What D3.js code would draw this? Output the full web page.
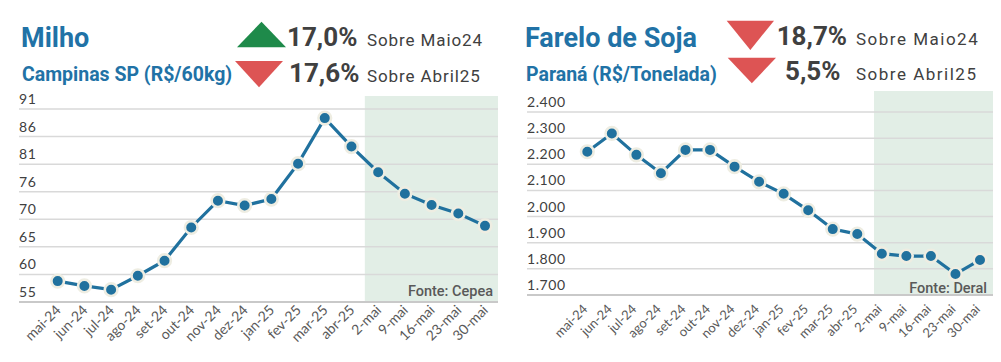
<!DOCTYPE html>
<html>
<head>
<meta charset="utf-8">
<script src="https://cdn.jsdelivr.net/npm/d3@7"></script>
<style>
  body { margin: 0; background: #fff; }
  svg { display: block; }
  .title { font-family: Roboto, sans-serif; font-weight: 700; fill: #2172a6; }
  .pct { font-family: Roboto, sans-serif; font-weight: 700; fill: #404040; }
  .cmp { font-family: Roboto, sans-serif; fill: #404040; letter-spacing: 1px; }
  .tick-label { font-family: Lato, sans-serif; fill: #404040; letter-spacing: 0.6px; }
  .x-label { font-family: Lato, sans-serif; fill: #595959; }
  .source { font-family: Roboto, sans-serif; font-weight: 500; fill: #595959; }
</style>
</head>
<body>
<div id="wrapper"></div>
<script>
// data
const categories = ["mai-24", "jun-24", "jul-24", "ago-24", "set-24", "out-24",
  "nov-24", "dez-24", "jan-25", "fev-25", "mar-25", "abr-25",
  "2-mai", "9-mai", "16-mai", "23-mai", "30-mai"]

const milhoValues = [58.9, 58.0, 57.3, 59.9, 62.7, 68.9, 73.9, 73.0, 74.2,
  80.8, 89.3, 84.0, 79.2, 75.2, 73.1, 71.5, 69.2]
const milhoTicks = ["55", "60", "65", "70", "76", "81", "86", "91"]

const sojaValues = [2248, 2318, 2236, 2166, 2255, 2255, 2191, 2133, 2087,
  2024, 1952, 1933, 1858, 1849, 1849, 1780, 1834]
const sojaTicks = ["1.700", "1.800", "1.900", "2.000", "2.100", "2.200", "2.300", "2.400"]

const milhoChanges = [17.0, -17.6]
const sojaChanges = [-18.7, -5.5]
const changeLabels = ["Sobre Maio24", "Sobre Abril25"]

const svg = d3.select("#wrapper")
  .append("svg")
    .attr("width", 1001)
    .attr("height", 362)

const fmtPct = v => d3.format(".1f")(Math.abs(v)).replace(".", ",") + "%"

function drawPanel(opts) {
  const g = svg.append("g")

  // header
  g.append("text")
      .attr("class", "title")
      .attr("x", opts.titleX)
      .attr("y", 47)
      .style("font-size", "27px")
      .text(opts.title)
  g.append("text")
      .attr("class", "title")
      .attr("x", opts.titleX + 1)
      .attr("y", 81)
      .style("font-size", "19.5px")
      .text(opts.subtitle)

  opts.changes.forEach((c, i) => {
    const tri = opts.triangles[i]
    const up = c > 0
    const [x0, x1, yTop, yBot] = tri
    const pts = up
      ? [[x0, yBot], [x1, yBot], [(x0 + x1) / 2, yTop]]
      : [[x0, yTop], [x1, yTop], [(x0 + x1) / 2, yBot]]
    g.append("path")
        .attr("d", d3.line()(pts) + "Z")
        .attr("fill", up ? "#1e8a4a" : "#dd5454")
    g.append("text")
        .attr("class", "pct")
        .attr("x", opts.pctX[i])
        .attr("y", opts.rowY[i])
        .style("font-size", "26px")
        .text(fmtPct(c))
    g.append("text")
        .attr("class", "cmp")
        .attr("x", opts.cmpX)
        .attr("y", opts.rowY[i])
        .style("font-size", "17px")
        .style("letter-spacing", opts.cmpSpacing)
        .text(changeLabels[i])
  })

  // scales
  const xScale = d3.scalePoint()
    .domain(categories)
    .range(opts.xRange)

  const yScale = d3.scaleLinear()
    .domain(opts.yDomain)
    .range(opts.yRange)

  const [yMin, yMax] = opts.yDomain
  const tickValues = opts.ticks.map((t, i) => yMin + i * (yMax - yMin) / (opts.ticks.length - 1))

  // weekly part shading
  const step = xScale.step()
  const shadeX = xScale(categories[11]) + step * opts.shadeFrac
  g.append("rect")
      .attr("x", shadeX)
      .attr("y", opts.shadeTop)
      .attr("width", opts.gridX[1] - shadeX)
      .attr("height", yScale(yMin) - opts.shadeTop)
      .attr("fill", "#e2eee6")

  // gridlines + labels
  const grid = g.append("g")
  grid.selectAll("line")
    .data(tickValues)
    .join("line")
      .attr("x1", opts.gridX[0])
      .attr("x2", opts.gridX[1])
      .attr("y1", d => yScale(d))
      .attr("y2", d => yScale(d))
      .attr("stroke", (d, i) => i === 0 ? "#c9c9c9" : "#d9d9d9")
      .attr("stroke-width", (d, i) => i === 0 ? 2 : 1.5)
  grid.selectAll("text")
    .data(tickValues)
    .join("text")
      .attr("class", "tick-label")
      .attr("x", opts.gridX[0])
      .attr("y", d => yScale(d) - 5)
      .style("font-size", "14px")
      .text((d, i) => opts.ticks[i])

  // x labels
  g.append("g")
    .selectAll("text")
    .data(categories)
    .join("text")
      .attr("class", "x-label")
      .attr("text-anchor", "end")
      .style("font-size", opts.xFont)
      .attr("transform", d => `translate(${xScale(d) + opts.labelDx},${yScale(yMin) + opts.labelDy}) rotate(-45)`)
      .text(d => d)

  // line + markers
  const lineGen = d3.line()
    .x((d, i) => xScale(categories[i]))
    .y(d => yScale(d))
  g.append("path")
      .attr("d", lineGen(opts.values))
      .attr("fill", "none")
      .attr("stroke", "#20719e")
      .attr("stroke-width", 3.2)
  g.append("g")
    .selectAll("circle")
    .data(opts.values)
    .join("circle")
      .attr("cx", (d, i) => xScale(categories[i]))
      .attr("cy", d => yScale(d))
      .attr("r", 6.3)
      .attr("fill", "#20719e")
      .attr("stroke", "#eeede2")
      .attr("stroke-width", 2.6)

  // source
  g.append("text")
      .attr("class", "source")
      .attr("x", opts.sourceX)
      .attr("y", yScale(yMin) - opts.sourceDy)
      .attr("text-anchor", "end")
      .style("font-size", "14.5px")
      .text(opts.source)
}

drawPanel({
  title: "Milho",
  subtitle: "Campinas SP (R$/60kg)",
  titleX: 21,
  changes: milhoChanges,
  triangles: [[237, 286, 21.7, 47.3], [235, 283, 61, 87.3]],
  pctX: [287, 289],
  rowY: [45.7, 81.7],
  cmpX: 367,
  cmpSpacing: "0.9px",
  values: milhoValues,
  ticks: milhoTicks,
  yDomain: [55, 91],
  yRange: [302, 109],
  xRange: [57.7, 485],
  gridX: [19, 498],
  shadeFrac: 0.5,
  shadeTop: 96,
  source: "Fonte: Cepea",
  sourceX: 493,
  sourceDy: 6,
  xFont: "14px",
  labelDx: 4,
  labelDy: 9
})

drawPanel({
  title: "Farelo de Soja",
  subtitle: "Paraná (R$/Tonelada)",
  titleX: 525,
  changes: sojaChanges,
  triangles: [[726.7, 774, 20.7, 50], [727.7, 776, 57.7, 83.3]],
  pctX: [776.7, 785],
  rowY: [45, 80],
  cmpX: 856,
  cmpSpacing: "1.5px",
  values: sojaValues,
  ticks: sojaTicks,
  yDomain: [1700, 2400],
  yRange: [295, 112],
  xRange: [587.3, 980],
  gridX: [527, 993],
  shadeFrac: 0.68,
  shadeTop: 91,
  source: "Fonte: Deral",
  sourceX: 987,
  sourceDy: 2,
  xFont: "13px",
  labelDx: 1,
  labelDy: 15
})
</script>
</body>
</html>
